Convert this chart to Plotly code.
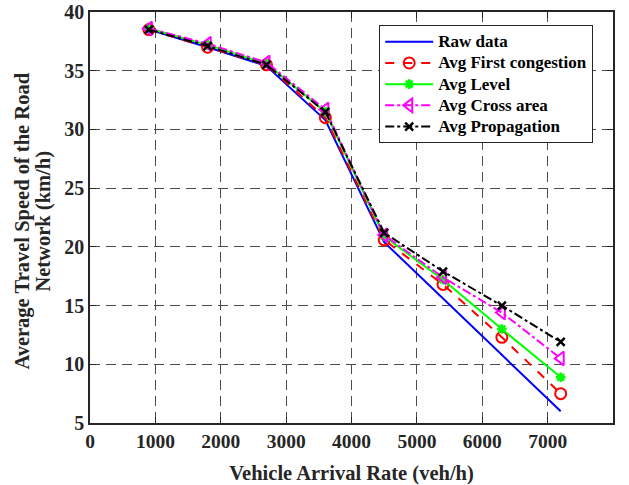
import plotly.graph_objects as go

x_rate = [900, 1800, 2700, 3600, 4500, 5400, 6300, 7200]
raw_data = [38.5, 37.0, 35.4, 30.8, 20.4, 15.6, 10.8, 6.0]
avg_first = [38.5, 37.0, 35.5, 31.0, 20.6, 16.8, 12.3, 7.5]
avg_level = [38.6, 37.2, 35.6, 31.5, 20.9, 17.2, 13.0, 8.9]
avg_cross = [38.6, 37.3, 35.7, 31.7, 21.0, 17.4, 14.4, 10.5]
avg_prop = [38.5, 37.1, 35.5, 31.5, 21.2, 17.9, 15.0, 11.9]

x_ticks = [0, 1000, 2000, 3000, 4000, 5000, 6000, 7000, 8000]
y_ticks = [5, 10, 15, 20, 25, 30, 35, 40]
y_title_lines = ["Average Travel Speed of the Road", "Network (km/h)"]

FONT = "Liberation Serif"
L, R, T, B = 90, 16, 12, 62
W, H = 629, 485
PW = W - L - R


def leg(name):
    return f"<span style='font-size:17px'><b>{name}</b></span>"


fig = go.Figure()
fig.add_trace(go.Scatter(x=x_rate, y=raw_data, mode="lines", name=leg("Raw data"),
                         line=dict(color="#0000ff", width=2)))
fig.add_trace(go.Scatter(x=x_rate, y=avg_first, mode="lines+markers", name=leg("Avg First congestion"),
                         line=dict(color="#ff0000", width=2, dash="dash"),
                         marker=dict(symbol="circle-open", size=11, color="#ff0000", line=dict(width=2))))
fig.add_trace(go.Scatter(x=x_rate, y=avg_level, mode="lines+markers", name=leg("Avg Level"),
                         line=dict(color="#00ff00", width=2),
                         marker=dict(symbol="asterisk-open", size=8, color="#00ff00", line=dict(width=2.5, color="#00ff00"))))
fig.add_trace(go.Scatter(x=x_rate, y=avg_cross, mode="lines+markers", name=leg("Avg Cross area"),
                         line=dict(color="#ff00ff", width=2, dash="dashdot"),
                         marker=dict(symbol="triangle-left-open", size=12, color="#ff00ff", line=dict(width=2))))
fig.add_trace(go.Scatter(x=x_rate, y=avg_prop, mode="lines+markers", name=leg("Avg Propagation"),
                         line=dict(color="#000000", width=2, dash="dashdot"),
                         marker=dict(symbol="x-thin-open", size=8, color="#000000", line=dict(width=2.5, color="#000000"))))

axis_common = dict(
    showline=True, linecolor="#262626", linewidth=1.5, mirror="ticks",
    ticks="inside", ticklen=6, tickcolor="#262626", tickwidth=1,
    showgrid=True, gridcolor="#4d4d4d", gridwidth=1.2, griddash="10px,6px",
    zeroline=False, automargin=False,
)

fig.update_xaxes(range=[0, 8000], tickvals=x_ticks,
                 ticktext=[f"<b>{v}</b>" for v in x_ticks],
                 tickfont=dict(family=FONT, size=19.5, color="#262626"),
                 title=dict(text="<b>Vehicle Arrival Rate (veh/h)</b>",
                            font=dict(family=FONT, size=20.5, color="#262626"), standoff=14),
                 **axis_common)
fig.update_yaxes(range=[5, 40], tickvals=y_ticks,
                 ticktext=[f"<b>{v}</b>" for v in y_ticks],
                 tickfont=dict(family=FONT, size=20, color="#262626"),
                 **axis_common)

for line_text, px in zip(y_title_lines, [23, 44]):
    fig.add_annotation(text=f"<b>{line_text}</b>", textangle=-90,
                       xref="paper", yref="paper", x=(px - L) / PW, y=0.49,
                       xanchor="center", yanchor="middle", showarrow=False,
                       font=dict(family=FONT, size=20.5, color="#262626"))

fig.update_layout(
    width=W, height=H,
    margin=dict(l=L, r=R, t=T, b=B),
    paper_bgcolor="white", plot_bgcolor="white",
    legend=dict(x=0.553, y=0.968, xanchor="left", yanchor="top",
                bgcolor="white", bordercolor="#262626", borderwidth=1,
                font=dict(family=FONT, size=14, color="#000000"),
                tracegroupgap=0, itemwidth=48),
    showlegend=True,
)

fig.write_html("out.html")
